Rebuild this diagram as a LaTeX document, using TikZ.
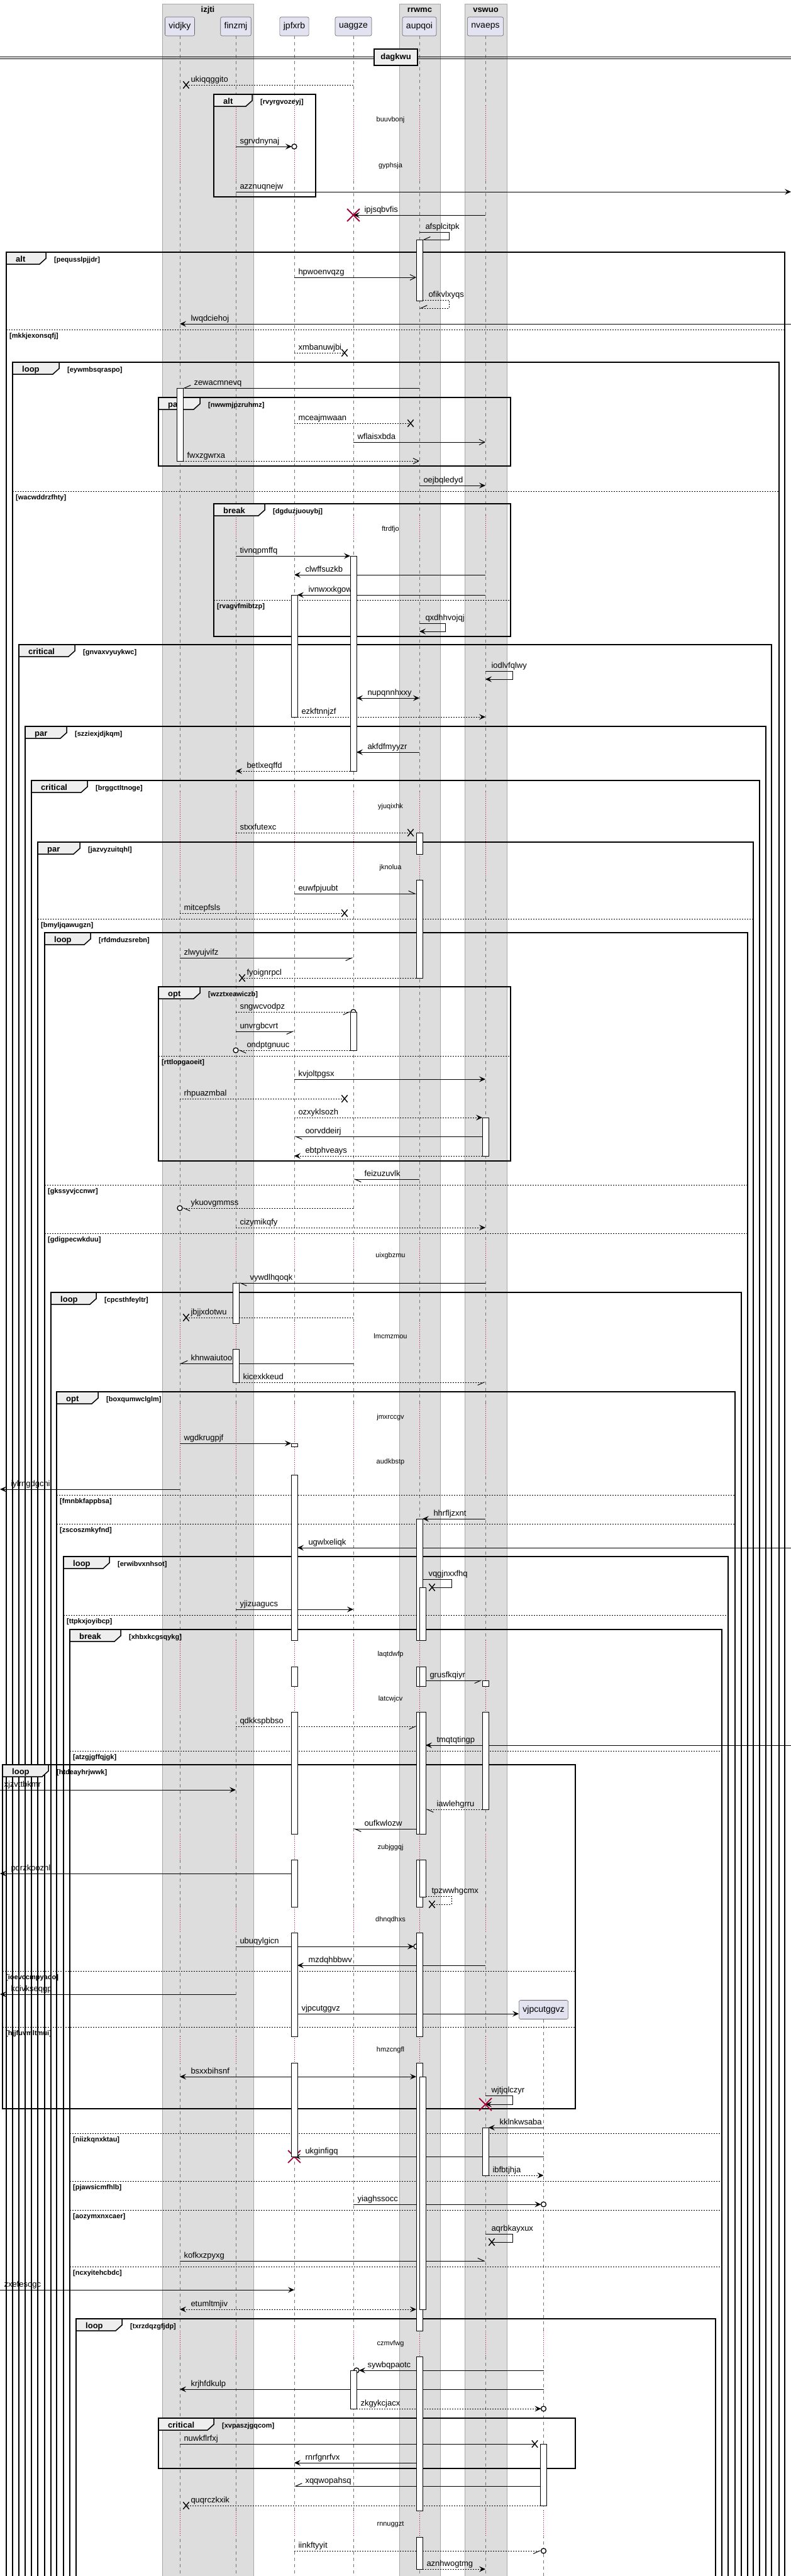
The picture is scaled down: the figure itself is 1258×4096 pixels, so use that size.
\documentclass[tikz,border=0pt]{standalone}
\usepackage{fontspec}
\setmainfont{Liberation Sans}
\usetikzlibrary{arrows.meta,shapes.misc}

\definecolor{boxbg}{HTML}{DDDDDD}
\definecolor{partbg}{HTML}{E2E2F0}
\definecolor{tabbg}{HTML}{EEEEEE}
\definecolor{kred}{HTML}{A80036}

\tikzset{
  boxfill/.style={fill=boxbg, draw=black!35, line width=0.5pt},
  boxttl/.style={font=\bfseries\fontsize{13}{15}\selectfont, inner sep=0pt},
  part/.style={draw=black!60, fill=partbg, rounded corners=2.5pt, line width=0.6pt,
    minimum height=30pt, inner xsep=6pt, font=\fontsize{14}{16}\selectfont},
  lifeline/.style={draw=black!55, line width=0.7pt, dash pattern=on 5pt off 5pt},
  dlyline/.style={draw=kred, line width=0.9pt, dash pattern=on 1pt off 2pt},
  dlytxt/.style={font=\fontsize{11}{13}\selectfont, inner sep=0pt},
  divbox/.style={draw, line width=1.5pt, fill=tabbg, minimum width=69pt, minimum height=26pt,
    inner sep=0pt, font=\bfseries\fontsize{13}{15}\selectfont},
  frm/.style={line width=1.5pt},
  sepline/.style={line width=1pt, dash pattern=on 2pt off 2pt},
  kindtxt/.style={anchor=base west, inner sep=0pt, font=\bfseries\fontsize{13}{15}\selectfont},
  condtxt/.style={anchor=base west, inner sep=0pt, font=\bfseries\fontsize{11}{13}\selectfont},
  msg/.style={line width=1pt},
  dsh/.style={line width=1pt, dash pattern=on 2pt off 2pt},
  fa/.style={-{Stealth[length=10pt,width=9pt,inset=4pt]}},
  fb/.style={{Stealth[length=10pt,width=9pt,inset=4pt]}-{Stealth[length=10pt,width=9pt,inset=4pt]}},
  oa/.style={-{Straight Barb[length=9pt,width=9pt]}},
  hl/.style={-{Straight Barb[left,length=10pt,width=9pt]}},
  hr/.style={-{Straight Barb[right,length=10pt,width=9pt]}},
  lbl/.style={inner sep=0pt, anchor=base west, yshift=5pt, font=\fontsize{13}{15}\selectfont},
  tr/.style={lbl, xshift=6pt},
  tl/.style={lbl, xshift=17pt},
  tlx/.style={lbl, xshift=7pt},
  ts/.style={lbl, xshift=9pt},
  lost/.style={cross out, draw, solid, line width=1.4pt, minimum width=8pt, minimum height=10pt, inner sep=0pt},
  kill/.style={cross out, draw=kred, solid, line width=1.8pt, minimum size=18pt, inner sep=0pt},
  ocirc/.style={circle, draw, solid, fill=white, line width=1.3pt, minimum size=8pt, inner sep=0pt},
  bar/.style={fill=white, draw=black, line width=0.8pt}
}

% group frame: x1, x2, ytop, ybottom, tab end, kind, condition
\newcommand{\grp}[7]{%
  \draw[frm] (#1,#3) rectangle (#2,#4);
  \draw[frm, fill=tabbg] (#1,#3) -- (#5,#3) -- (#5,#3+10) -- (#5-10,#3+19) -- (#1,#3+19) -- cycle;
  \node[kindtxt] (#7-k) at (#1+15,#3+15.5) {#6};
  \node[condtxt] (#7) at (#5+13,#3+15.5) {[#7]};
}
% else separator: x1, x2, y, condition
\newcommand{\orelse}[4]{%
  \draw[sepline] (#1,#3) -- (#2,#3);
  \node[condtxt] (#4) at (#1+5,#3+13) {[#4]};
}
% delay: dotted lifelines between two heights
\newcommand{\dly}[3][]{%
  \foreach \n/\lc in {vidjky/boxbg,finzmj/boxbg,jpfxrb/white,uaggze/white,aupqoi/boxbg,nvaeps/boxbg#1}{
    \draw[\lc, line width=2.2pt] (\n |- 0,#2) -- (\n |- 0,#3);
    \draw[dlyline] (\n |- 0,#2) -- (\n |- 0,#3);
  }
}

\begin{document}
\begin{tikzpicture}[x=1pt,y=-1pt]
  \useasboundingbox (0,0) rectangle (1258,4096);

  % boxes
  \draw[boxfill] (258,6) rectangle (403,4110);
  \draw[boxfill] (635,6) rectangle (700,4110);
  \draw[boxfill] (739,6) rectangle (806,4110);
  \node[boxttl] (b-izjti) at (330.5,16) {izjti};
  \node[boxttl] (b-rrwmc) at (667.5,16) {rrwmc};
  \node[boxttl] (b-vswuo) at (772.5,16) {vswuo};

  % lifeline positions
  \foreach \n/\x in {vidjky/286,finzmj/375,jpfxrb/468,uaggze/562,aupqoi/667,nvaeps/772,vjpcutggvz/864.5}{
    \coordinate (\n) at (\x,0);
    \coordinate (\n-l) at (\x-5,0);
    \coordinate (\n-r) at (\x+5,0);
    \coordinate (\n-rr) at (\x+10,0);
    \coordinate (\n-ll) at (\x-14,0);
  }
  \coordinate (lft) at (0,0);
  \coordinate (rgt) at (1258,0);

  \foreach \n in {vidjky,finzmj,jpfxrb,uaggze,aupqoi,nvaeps}{
    \node[part] (p-\n) at (\n |- 0,42) {\n};
    \draw[lifeline] (p-\n.south) -- (\n |- 0,4110);
  }
  \node[part] (p-vjpcutggvz) at (vjpcutggvz |- 0,3195.5) {vjpcutggvz};
  \draw[lifeline] (p-vjpcutggvz.south) -- (vjpcutggvz |- 0,4110);

  % divider
  \draw[line width=1pt] (0,90) -- (1258,90) (0,93.5) -- (1258,93.5);
  \node[divbox] (dagkwu) at (629.5,91) {dagkwu};

  % delays
  \dly{168}{287}
  \dly{820}{859}
  \dly{1259}{1395}
  \dly{1975}{2017}
  \dly{2104}{2145}
  \dly{2232}{2345}
  \dly{2608}{2722}
  \dly{2916}{2957}
  \dly{3032}{3073}
  \dly{3238}{3280}
  \dly[,vjpcutggvz/white]{3706}{3747}
  \dly[,vjpcutggvz/white]{3992}{4033}
  \node[dlytxt] (d1) at (621,191) {buuvbonj};
  \node[dlytxt] (d2) at (621,264) {gyphsja};
  \node[dlytxt] (d3) at (621,842) {ftrdfjo};
  \node[dlytxt] (d4) at (621,1283) {yjuqixhk};
  \node[dlytxt] (d5) at (621,1380) {jknolua};
  \node[dlytxt] (d6) at (621,1997) {uixgbzmu};
  \node[dlytxt] (d7) at (621,2125) {lmcmzmou};
  \node[dlytxt] (d8) at (621,2254) {jmxrccgv};
  \node[dlytxt] (d9) at (621,2325) {audkbstp};
  \node[dlytxt] (d10) at (621,2631) {laqtdwfp};
  \node[dlytxt] (d11) at (621,2702) {latcwjcv};
  \node[dlytxt] (d12) at (621,2938) {zubjggqj};
  \node[dlytxt] (d13) at (621,3053) {dhnqdhxs};
  \node[dlytxt] (d14) at (621,3260) {hmzcngfl};
  \node[dlytxt] (d15) at (621,3727) {czmvfwg};
  \node[dlytxt] (d16) at (621,4014) {rnnuggzt};

  % groups
  \grp{340}{502}{150}{313}{401}{alt}{rvyrgvozeyj}
  \grp{10}{1248}{401}{4110}{73}{alt}{pequsslpjjdr}
  \orelse{10}{1248}{524}{mkkjexonsqfj}
  \grp{20}{1239}{576}{4110}{94}{loop}{eywmbsqraspo}
  \grp{252}{812}{632}{741}{318}{par}{nwwmjpzruhmz}
  \orelse{20}{1239}{781}{wacwddrzfhty}
  \grp{340}{812}{801}{1012}{421}{break}{dgduzjuouybj}
  \orelse{340}{812}{954}{rvagvfmibtzp}
  \grp{30}{1227}{1025}{4110}{119}{critical}{gnvaxvyuykwc}
  \grp{40}{1218}{1155}{4110}{106}{par}{szziexjdjkqm}
  \grp{50}{1208}{1241}{4110}{139}{critical}{brggctltnoge}
  \grp{60}{1198}{1339}{4110}{127}{par}{jazvyzuitqhl}
  \orelse{60}{1198}{1461}{bmyljqawugzn}
  \grp{71}{1189}{1483}{4110}{144}{loop}{rfdmduzsrebn}
  \grp{252}{812}{1569}{1846}{318}{opt}{wzztxeawiczb}
  \orelse{252}{812}{1679}{rttlopgaoeit}
  \orelse{71}{1189}{1884}{gkssyvjccnwr}
  \orelse{71}{1189}{1961}{gdigpecwkduu}
  \grp{81}{1179}{2055}{4110}{153}{loop}{cpcsthfeyltr}
  \grp{90}{1169}{2213}{4110}{156}{opt}{boxqumwclglm}
  \orelse{90}{1169}{2377}{fmnbkfappbsa}
  \orelse{90}{1169}{2423}{zscoszmkyfnd}
  \grp{101}{1158}{2475}{4110}{174}{loop}{erwibvxnhsot}
  \orelse{101}{1158}{2568}{ttpkxjoyibcp}
  \grp{111}{1148}{2591}{4110}{192}{break}{xhbxkcgsqykg}
  \orelse{111}{1148}{2784}{atzgjgffqjgk}
  \grp{4}{915}{2806}{3353}{77}{loop}{htdeayhrjwwk}
  \orelse{4}{915}{3134}{ioevccmpyaoo}
  \orelse{4}{915}{3223}{hjjfuvmltmui}
  \orelse{111}{1148}{3392}{niizkqnxktau}
  \orelse{111}{1148}{3468}{pjawsicmfhlb}
  \orelse{111}{1148}{3514}{aozymxnxcaer}
  \orelse{111}{1148}{3604}{ncxyitehcbdc}
  \grp{121}{1138}{3687}{4110}{194}{loop}{txrzdqzgfjdp}
  \grp{252}{915}{3845}{3925}{340}{critical}{xvpaszjgqcom}

  % messages
  \draw[dsh] (uaggze |- 0,135) -- (vidjky-rr |- 0,135) node[tlx] (m1) {ukiqqggito};
  \node[lost] (x1) at (vidjky-rr |- 0,135) {};
  \draw[msg,fa,shorten >=4pt] (finzmj |- 0,233) node[tr] (m2) {sgrvdnynaj} -- (jpfxrb |- 0,233);
  \node[ocirc] (c2) at (jpfxrb |- 0,233) {};
  \draw[msg,fa] (finzmj |- 0,305) node[tr] (m3) {azznuqnejw} -- (rgt |- 0,305);
  \draw[msg,fa] (nvaeps |- 0,342) -- (uaggze |- 0,342) node[tl] (m4) {ipjsqbvfis};
  \node[kill] (k4) at (uaggze |- 0,342) {};
  \draw[msg,hr] (aupqoi |- 0,369) node[ts] (m5) {afsplcitpk} -- ++(47,0) -- ++(0,12) -- (aupqoi-r |- 0,381);
  \draw[msg,oa] (jpfxrb |- 0,441) node[tr] (m6) {hpwoenvqzg} -- (aupqoi-l |- 0,441);
  \draw[dsh,hr] (aupqoi-r |- 0,477) node[ts] (m7) {ofikvlxyqs} -- ++(42,0) -- ++(0,13) -- (aupqoi |- 0,490);
  \draw[msg,fa] (rgt |- 0,515) -- (vidjky |- 0,515) node[tl] (m8) {lwqdciehoj};
  \draw[dsh] (jpfxrb |- 0,561) node[tr] (m9) {xmbanuwjbi} -- (uaggze-ll |- 0,561);
  \node[lost] (x9) at (uaggze-ll |- 0,561) {};
  \draw[msg,hr] (aupqoi |- 0,617) -- (vidjky-r |- 0,617) node[tl] (m10) {zewacmnevq};
  \draw[dsh] (jpfxrb |- 0,673) node[tr] (m11) {mceajmwaan} -- (aupqoi-ll |- 0,673);
  \node[lost] (x11) at (aupqoi-ll |- 0,673) {};
  \draw[msg,oa] (uaggze |- 0,703) node[tr] (m12) {wflaisxbda} -- (nvaeps |- 0,703);
  \draw[dsh,oa] (vidjky-r |- 0,733) node[tr] (m13) {fwxzgwrxa} -- (aupqoi |- 0,733);
  \draw[msg,fa] (aupqoi |- 0,772) node[tr] (m14) {oejbqledyd} -- (nvaeps |- 0,772);
  \draw[msg,fa] (finzmj |- 0,884) node[tr] (m15) {tivnqpmffq} -- (uaggze-l |- 0,884);
  \draw[msg,fa] (nvaeps |- 0,914) -- (jpfxrb |- 0,914) node[tl] (m16) {clwffsuzkb};
  \draw[msg,fa] (nvaeps |- 0,946) -- (jpfxrb-r |- 0,946) node[tl] (m17) {ivnwxxkgow};
  \draw[msg,fa] (aupqoi |- 0,991) node[ts] (m18) {qxdhhvojqj} -- ++(41,0) -- ++(0,13) -- (aupqoi |- 0,1004);
  \draw[msg,fa] (nvaeps |- 0,1067) node[ts] (m19) {iodlvfqlwy} -- ++(43,0) -- ++(0,13) -- (nvaeps |- 0,1080);
  \draw[msg,fb] (uaggze-r |- 0,1110) node[tl] (m20) {nupqnnhxxy} -- (aupqoi |- 0,1110);
  \draw[dsh,fa] (jpfxrb-r |- 0,1140) node[tr] (m21) {ezkftnnjzf} -- (nvaeps |- 0,1140);
  \draw[msg,fa] (aupqoi |- 0,1196) -- (uaggze-r |- 0,1196) node[tl] (m22) {akfdfmyyzr};
  \draw[dsh,fa] (uaggze-l |- 0,1226) -- (finzmj |- 0,1226) node[tl] (m23) {betlxeqffd};
  \draw[dsh] (finzmj |- 0,1324) node[tr] (m24) {stxxfutexc} -- (aupqoi-ll |- 0,1324);
  \node[lost] (x24) at (aupqoi-ll |- 0,1324) {};
  \draw[msg,hl] (jpfxrb |- 0,1421) node[tr] (m25) {euwfpjuubt} -- (aupqoi-l |- 0,1421);
  \draw[dsh] (vidjky |- 0,1452) node[tr] (m26) {mitcepfsls} -- (uaggze-ll |- 0,1452);
  \node[lost] (x26) at (uaggze-ll |- 0,1452) {};
  \draw[msg,hr] (vidjky |- 0,1523) node[tr] (m27) {zlwyujvifz} -- (uaggze |- 0,1523);
  \draw[dsh] (aupqoi-l |- 0,1555) -- (finzmj-rr |- 0,1555) node[tlx] (m28) {fyoignrpcl};
  \node[lost] (x28) at (finzmj-rr |- 0,1555) {};
  \draw[dsh,hr,shorten >=4pt] (finzmj |- 0,1609) node[tr] (m29) {sngwcvodpz} -- (uaggze |- 0,1609);
  \node[ocirc] (c29) at (uaggze |- 0,1609) {};
  \draw[msg,hr] (finzmj |- 0,1640) node[tr] (m30) {unvrgbcvrt} -- (jpfxrb |- 0,1640);
  \draw[dsh,hl,shorten >=4pt] (uaggze-l |- 0,1670) -- (finzmj |- 0,1670) node[tl] (m31) {ondptgnuuc};
  \node[ocirc] (c31) at (finzmj |- 0,1670) {};
  \draw[msg,fa] (jpfxrb |- 0,1716) node[tr] (m32) {kvjoltpgsx} -- (nvaeps |- 0,1716);
  \draw[dsh] (vidjky |- 0,1747) node[tr] (m33) {rhpuazmbal} -- (uaggze-ll |- 0,1747);
  \node[lost] (x33) at (uaggze-ll |- 0,1747) {};
  \draw[dsh,fa] (jpfxrb |- 0,1777) node[tr] (m34) {ozxyklsozh} -- (nvaeps-l |- 0,1777);
  \draw[msg,hl] (nvaeps-l |- 0,1807) -- (jpfxrb |- 0,1807) node[tl] (m35) {oorvddeirj};
  \draw[dsh,fa] (nvaeps-l |- 0,1838) -- (jpfxrb |- 0,1838) node[tl] (m36) {ebtphveays};
  \draw[msg,hl] (aupqoi |- 0,1875) -- (uaggze |- 0,1875) node[tl] (m37) {feizuzuvlk};
  \draw[dsh,hl,shorten >=4pt] (uaggze |- 0,1921) -- (vidjky |- 0,1921) node[tl] (m38) {ykuovgmmss};
  \node[ocirc] (c38) at (vidjky |- 0,1921) {};
  \draw[dsh,fa] (finzmj |- 0,1952) node[tr] (m39) {cizymikqfy} -- (nvaeps |- 0,1952);
  \draw[msg,hl] (nvaeps |- 0,2040) -- (finzmj-r |- 0,2040) node[tl] (m40) {vywdlhqoqk};
  \draw[dsh] (uaggze |- 0,2095) -- (vidjky-rr |- 0,2095) node[tlx] (m41) {jbjjxdotwu};
  \node[lost] (x41) at (vidjky-rr |- 0,2095) {};
  \draw[msg,hr] (uaggze |- 0,2168) -- (vidjky |- 0,2168) node[tl] (m42) {khnwaiutoo};
  \draw[dsh,hr] (finzmj-r |- 0,2198) node[tr] (m43) {kicexkkeud} -- (nvaeps |- 0,2198);
  \draw[msg,fa] (vidjky |- 0,2295) node[tr] (m44) {wgdkrugpjf} -- (jpfxrb-l |- 0,2295);
  \draw[msg,fa] (vidjky |- 0,2368) -- (lft |- 0,2368) node[tl] (m45) {iylrngdgchi};
  \draw[msg,fa] (nvaeps |- 0,2415) -- (aupqoi-r |- 0,2415) node[tl] (m46) {hhrfljzxnt};
  \draw[msg,fa] (rgt |- 0,2461) -- (jpfxrb-r |- 0,2461) node[tl] (m47) {ugwlxeliqk};
  \draw[msg] (aupqoi-r |- 0,2511) node[ts] (m48) {vqgjnxxfhq} -- ++(46,0) -- ++(0,13) -- ++(-31,0) coordinate (e48);
  \node[lost] (x48) at (e48) {};
  \draw[msg,fa] (finzmj |- 0,2559) node[tr] (m49) {yjizuagucs} -- (uaggze |- 0,2559);
  \draw[msg,hr] (aupqoi-rr |- 0,2672) node[tr] (m50) {grusfkqiyr} -- (nvaeps-l |- 0,2672);
  \draw[dsh,hr,shorten >=4pt] (finzmj |- 0,2745) node[tr] (m51) {qdkkspbbso} -- (aupqoi |- 0,2745);
  \node[ocirc] (c51) at (aupqoi |- 0,2745) {};
  \draw[msg,fa] (rgt |- 0,2775) -- (aupqoi-rr |- 0,2775) node[tl] (m52) {tmqtqtingp};
  \draw[msg,fa] (lft |- 0,2846) node[tr] (m53) {xjzvttbkmr} -- (finzmj |- 0,2846);
  \draw[dsh,hl] (nvaeps-l |- 0,2877) -- (aupqoi-rr |- 0,2877) node[tl] (m54) {iawlehgrru};
  \draw[msg,hl] (aupqoi |- 0,2908) -- (uaggze |- 0,2908) node[tl] (m55) {oufkwlozw};
  \draw[msg,fa] (jpfxrb-l |- 0,2979) -- (lft |- 0,2979) node[tl] (m56) {pqrzkoozhl};
  \draw[dsh] (aupqoi-rr |- 0,3015) node[ts] (m57) {tpzwwhgcmx} -- ++(41,0) -- ++(0,13) -- ++(-31,0) coordinate (e57);
  \node[lost] (x57) at (e57) {};
  \draw[msg,fa,shorten >=4pt] (finzmj |- 0,3095) node[tr] (m58) {ubuqylgicn} -- (aupqoi-l |- 0,3095);
  \node[ocirc] (c58) at (aupqoi-l |- 0,3095) {};
  \draw[msg,fa] (nvaeps |- 0,3125) -- (jpfxrb-r |- 0,3125) node[tl] (m59) {mzdqhbbwv};
  \draw[msg,fa] (finzmj |- 0,3171) -- (lft |- 0,3171) node[tl] (m60) {kdivkseqgp};
  \draw[msg,fa] (jpfxrb-r |- 0,3202) node[tr] (m61) {vjpcutggvz} -- (p-vjpcutggvz.west |- 0,3202);
  \draw[msg,fb] (vidjky |- 0,3302) node[tl] (m62) {bsxxbihsnf} -- (aupqoi-l |- 0,3302);
  \draw[msg,fa] (nvaeps |- 0,3332) node[ts] (m63) {wjtjqlczyr} -- ++(43,0) -- ++(0,14) -- (nvaeps |- 0,3346);
  \node[kill] (k63) at (nvaeps |- 0,3346) {};
  \draw[msg,fa] (vjpcutggvz |- 0,3383) -- (nvaeps-r |- 0,3383) node[tl] (m64) {kklnkwsaba};
  \draw[msg,fa] (vjpcutggvz |- 0,3429) -- (jpfxrb |- 0,3429) node[tl] (m65) {ukginfigq};
  \node[kill] (k65) at (jpfxrb |- 0,3429) {};
  \draw[dsh,fa] (nvaeps-r |- 0,3459) node[tr] (m66) {ibfbtjhja} -- (vjpcutggvz |- 0,3459);
  \draw[msg,fa,shorten >=4pt] (uaggze |- 0,3505) node[tr] (m67) {yiaghssocc} -- (vjpcutggvz |- 0,3505);
  \node[ocirc] (c67) at (vjpcutggvz |- 0,3505) {};
  \draw[msg] (nvaeps |- 0,3552) node[ts] (m68) {aqrbkayxux} -- ++(43,0) -- ++(0,13) -- ++(-33,0) coordinate (e68);
  \node[lost] (x68) at (e68) {};
  \draw[msg,hl] (vidjky |- 0,3595) node[tr] (m69) {kofkxzpyxg} -- (nvaeps |- 0,3595);
  \draw[msg,fa] (lft |- 0,3641) node[tr] (m70) {zxefesogc} -- (jpfxrb |- 0,3641);
  \draw[dsh,fb] (vidjky |- 0,3672) node[tl] (m71) {etumltmjiv} -- (aupqoi-l |- 0,3672);
  \draw[msg,fa,shorten >=4pt] (vjpcutggvz |- 0,3769) -- (uaggze-r |- 0,3769) node[tl] (m72) {sywbqpaotc};
  \node[ocirc] (c72) at (uaggze-r |- 0,3769) {};
  \draw[msg,fa] (vjpcutggvz |- 0,3799) -- (vidjky |- 0,3799) node[tl] (m73) {krjhfdkulp};
  \draw[dsh,fa,shorten >=4pt] (uaggze-r |- 0,3830) node[tr] (m74) {zkgykcjacx} -- (vjpcutggvz |- 0,3830);
  \node[ocirc] (c74) at (vjpcutggvz |- 0,3830) {};
  \draw[msg] (vidjky |- 0,3886) node[tr] (m75) {nuwkflrfxj} -- (vjpcutggvz-ll |- 0,3886);
  \node[lost] (x75) at (vjpcutggvz-ll |- 0,3886) {};
  \draw[msg,fa] (aupqoi-l |- 0,3916) -- (jpfxrb |- 0,3916) node[tl] (m76) {rnrfgnrfvx};
  \draw[msg,hr] (vjpcutggvz-l |- 0,3953) -- (jpfxrb |- 0,3953) node[tl] (m77) {xqqwopahsq};
  \draw[dsh] (vjpcutggvz-l |- 0,3984) -- (vidjky-rr |- 0,3984) node[tlx] (m78) {quqrczkxik};
  \node[lost] (x78) at (vidjky-rr |- 0,3984) {};
  \draw[dsh,hr,shorten >=4pt] (jpfxrb |- 0,4056) node[tr] (m79) {iinkftyyit} -- (vjpcutggvz |- 0,4056);
  \node[ocirc] (c79) at (vjpcutggvz |- 0,4056) {};
  \draw[dsh,fa] (aupqoi-r |- 0,4085) node[tr] (m80) {aznhwogtmg} -- (nvaeps |- 0,4085);

  % activations
  \draw[bar] (aupqoi-l |- 0,381) rectangle (aupqoi-r |- 0,478);
  \draw[bar] (vidjky-l |- 0,617) rectangle (vidjky-r |- 0,733);
  \draw[bar] (uaggze-l |- 0,884) rectangle (uaggze-r |- 0,1226);
  \draw[bar] (jpfxrb-l |- 0,946) rectangle (jpfxrb-r |- 0,1140);
  \foreach \a/\b in {1324/1358,1399/1555}
    \draw[bar] (aupqoi-l |- 0,\a) rectangle (aupqoi-r |- 0,\b);
  \draw[bar] (uaggze-l |- 0,1609) rectangle (uaggze-r |- 0,1670);
  \draw[bar] (nvaeps-l |- 0,1777) rectangle (nvaeps-r |- 0,1838);
  \foreach \a/\b in {2040/2104,2145/2198}
    \draw[bar] (finzmj-l |- 0,\a) rectangle (finzmj-r |- 0,\b);
  \foreach \a/\b in {2295/2300,2345/2608,2650/2681,2722/2916,2957/3032,3073/3238,3280/3429}
    \draw[bar] (jpfxrb-l |- 0,\a) rectangle (jpfxrb-r |- 0,\b);
  \foreach \a/\b in {2415/2608,2650/2681,2722/2916,2957/3032,3073/3238,3280/3706,3747/3992,4034/4085}
    \draw[bar] (aupqoi-l |- 0,\a) rectangle (aupqoi-r |- 0,\b);
  \foreach \a/\b in {2524/2608,2650/2681,2722/2916,2957/3016,3302/3672}
    \draw[bar] (aupqoi |- 0,\a) rectangle (aupqoi-rr |- 0,\b);
  \foreach \a/\b in {2672/2681,2722/2877,3383/3459}
    \draw[bar] (nvaeps-l |- 0,\a) rectangle (nvaeps-r |- 0,\b);
  \draw[bar] (uaggze-l |- 0,3769) rectangle (uaggze-r |- 0,3830);
  \draw[bar] (vjpcutggvz-l |- 0,3886) rectangle (vjpcutggvz-r |- 0,3984);
\end{tikzpicture}
\end{document}
